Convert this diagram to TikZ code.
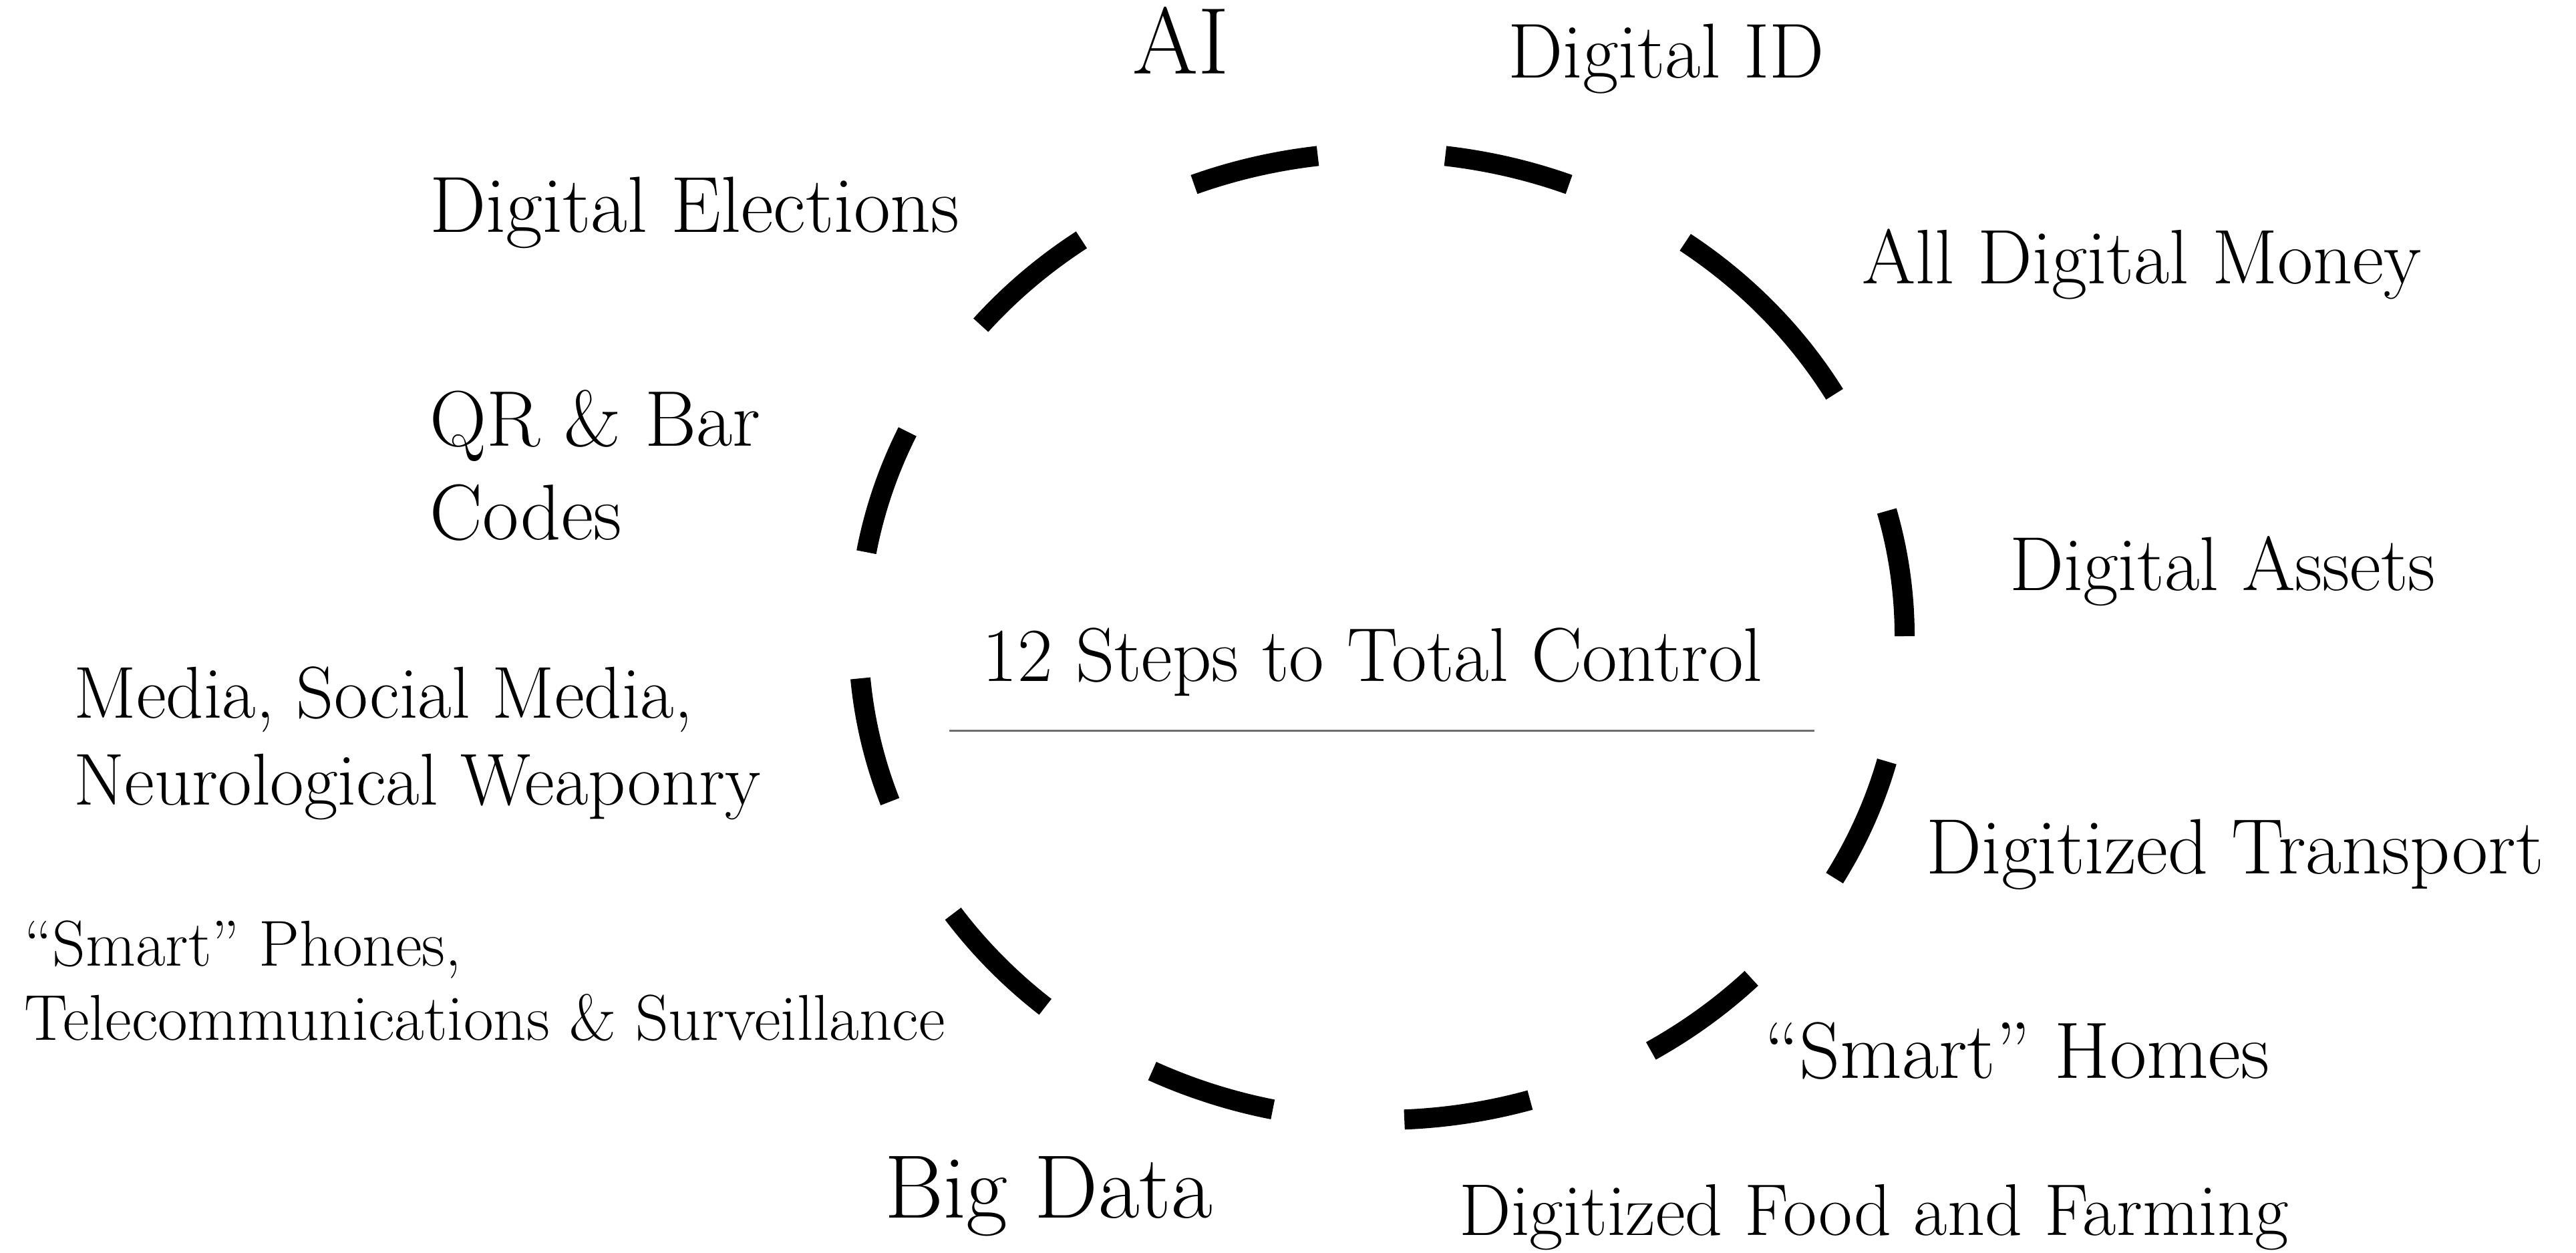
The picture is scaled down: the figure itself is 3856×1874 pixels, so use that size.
\documentclass[tikz,border=0pt]{standalone}
\usepackage{fontspec}
\usepackage{tikz}

\begin{document}
\begin{tikzpicture}[x=0.1mm, y=0.1mm,
    ring/.style={line width=3mm, black},
    lbl/.style={anchor=base west, inner sep=0pt, align=left, font=\fontsize{33}{40}\selectfont}]
\useasboundingbox (0,0) rectangle (3856,1874);
\coordinate (c) at (2068,922);
\foreach \a/\b in {111/97, 83/69, 54.5/30, 15/0, -15/-30, -45/-59, -73.5/-87.5, -102/-116, -130/-145, -160/-175, 170/155, 140/125}
    \draw[ring] (c) ++(\a:783 and 724) arc[start angle=\a, end angle=\b, x radius=783, y radius=724];
\node[lbl, font=\fontsize{40.3}{48}\selectfont] (ai) at (1695,1763) {AI};
\node[lbl, font=\fontsize{33.1}{40}\selectfont] (id) at (2257,1757) {Digital ID};
\node[lbl, font=\fontsize{33.9}{40}\selectfont] (elections) at (643,1526) {Digital Elections};
\node[lbl, font=\fontsize{32.9}{40}\selectfont] (money) at (2787,1449) {All Digital Money};
\node[lbl, font=\fontsize{33.6}{40.1}\selectfont] (codes) at (643,1066) {QR \& Bar\\Codes};
\node[lbl, font=\fontsize{32.6}{40}\selectfont] (assets) at (3008,990) {Digital Assets};
\node[lbl, font=\fontsize{32.5}{40}\selectfont] (title) at (1470,854) {12 Steps to Total Control};
\node[lbl, font=\fontsize{31.3}{37}\selectfont] (media) at (110,669) {Media, Social Media,\\Neurological Weaponry};
\node[lbl, font=\fontsize{33.4}{40}\selectfont] (transport) at (2883,566) {Digitized Transport};
\node[lbl, font=\fontsize{27.6}{31.4}\selectfont] (phones) at (36,318) {“Smart” Phones,\\Telecommunications \& Surveillance};
\node[lbl, font=\fontsize{34.1}{40}\selectfont] (homes) at (2641,261) {“Smart” Homes};
\node[lbl, font=\fontsize{38.3}{46}\selectfont] (bigdata) at (1324,52) {Big Data};
\node[lbl, font=\fontsize{31.2}{38}\selectfont] (food) at (2184,26) {Digitized Food and Farming};
\coordinate (rule w) at (1421,780);
\coordinate (rule e) at (2716,780);
\draw[black!57, line width=0.3mm] (rule w) -- (rule e);
\end{tikzpicture}
\end{document}
